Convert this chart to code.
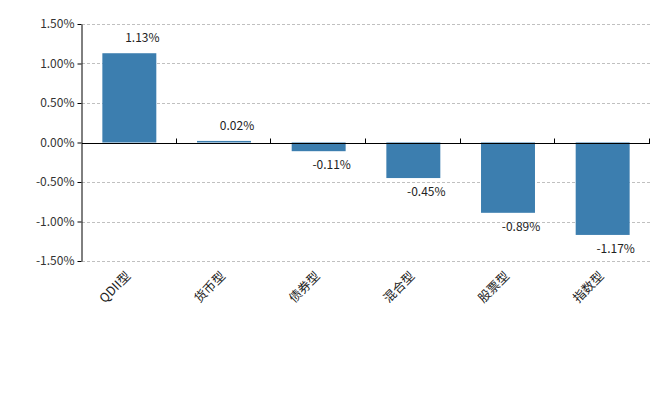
<!DOCTYPE html>
<html>
  <head>
    <meta charset="UTF-8" />
    <style>
      body {
        margin: 0;
        background-color: #ffffff;
      }
      svg {
        display: block;
        font-family: "Microsoft YaHei", "Noto Sans CJK SC", sans-serif;
      }
      .grid line {
        stroke: #c0c0c0;
        stroke-dasharray: 3, 2;
      }
      .bar {
        fill: #3c7eaf;
      }
    </style>
  </head>

  <body>
    <svg></svg>

    <script src="https://d3js.org/d3.v7.min.js"></script>
    <script>
      const categories = ["QDII型", "货币型", "债券型", "混合型", "股票型", "指数型"];
      const values = [1.13, 0.02, -0.11, -0.45, -0.89, -1.17];
      const yTicks = [1.5, 1.0, 0.5, 0.0, -0.5, -1.0, -1.5];

      const data = categories.map((c, i) => ({ name: c, value: values[i] }));

      const width = 664;
      const height = 395;
      const plotLeft = 82;
      const plotRight = 650;
      const plotTop = 24;
      const plotBottom = 261;

      const svg = d3
        .select("svg")
        .attr("width", width)
        .attr("height", height);

      const yScale = d3
        .scaleLinear()
        .domain([-1.5, 1.5])
        .range([plotBottom, plotTop]);

      const xScale = d3
        .scaleBand()
        .domain(categories)
        .range([plotLeft, plotRight])
        .padding(0);

      const fmt = (d) => d.toFixed(2) + "%";

      // dashed grid lines
      svg
        .append("g")
        .attr("class", "grid")
        .selectAll("line")
        .data(yTicks.filter((t) => t !== 0))
        .enter()
        .append("line")
        .attr("x1", plotLeft)
        .attr("x2", plotRight)
        .attr("y1", (d) => Math.round(yScale(d)) + 0.5)
        .attr("y2", (d) => Math.round(yScale(d)) + 0.5);

      // y axis
      const yAxis = svg
        .append("g")
        .attr("transform", `translate(${plotLeft - 0.5}, 0)`)
        .call(
          d3
            .axisLeft(yScale)
            .tickValues(yTicks)
            .tickSize(4)
            .tickSizeOuter(0)
            .tickPadding(3)
            .tickFormat(fmt)
        );
      yAxis.attr("font-family", null).attr("font-size", null);
      yAxis.select(".domain").attr("stroke", "#000");
      yAxis.selectAll(".tick line").attr("stroke", "#000");
      yAxis
        .selectAll(".tick text")
        .attr("fill", "#333")
        .style("font-size", "12px");

      // bars
      const barW = xScale.bandwidth() * 0.57;
      svg
        .selectAll(".bar")
        .data(data)
        .enter()
        .append("rect")
        .attr("class", "bar")
        .attr("x", (d) => xScale(d.name) + (xScale.bandwidth() - barW) / 2)
        .attr("y", (d) => yScale(Math.max(0, d.value)))
        .attr("width", barW)
        .attr("height", (d) => Math.abs(yScale(d.value) - yScale(0)));

      // zero axis with category ticks pointing up
      const zeroY = Math.round(yScale(0)) + 0.5;
      const xAxis = svg.append("g").attr("transform", `translate(0, ${zeroY})`);
      xAxis
        .append("line")
        .attr("x1", plotLeft)
        .attr("x2", plotRight)
        .attr("stroke", "#000");
      xAxis
        .selectAll(".sep")
        .data(d3.range(1, categories.length + 1))
        .enter()
        .append("line")
        .attr("class", "sep")
        .attr("x1", (i) => Math.round(plotLeft + i * xScale.step()) - 0.5)
        .attr("x2", (i) => Math.round(plotLeft + i * xScale.step()) - 0.5)
        .attr("y1", 0)
        .attr("y2", -5)
        .attr("stroke", "#000");

      // value labels
      svg
        .selectAll(".value")
        .data(data)
        .enter()
        .append("text")
        .attr("class", "value")
        .attr("x", (d) => xScale(d.name) + xScale.bandwidth() / 2 + 13)
        .attr("y", (d) =>
          d.value >= 0 ? yScale(d.value) - 11 : yScale(d.value) + 18
        )
        .attr("text-anchor", "middle")
        .attr("fill", "#222")
        .style("font-size", "12px")
        .text((d) => fmt(d.value));

      // rotated category labels
      svg
        .selectAll(".cat")
        .data(categories)
        .enter()
        .append("text")
        .attr("class", "cat")
        .attr(
          "transform",
          (d) =>
            `translate(${xScale(d) + xScale.bandwidth() / 2 + 2}, ${plotBottom + 16}) rotate(-45)`
        )
        .attr("text-anchor", "end")
        .attr("fill", "#222")
        .style("font-size", "12.5px")
        .text((d) => d);
    </script>
  </body>
</html>
